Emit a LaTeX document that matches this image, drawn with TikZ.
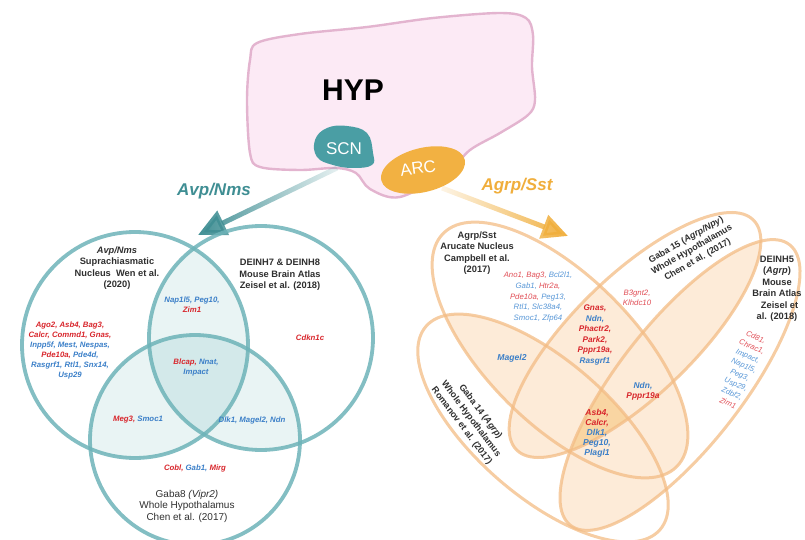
\documentclass[tikz,border=0pt]{standalone}
\usepackage{fontspec}
\setmainfont{Liberation Sans}
\usepackage{tikz}
\usetikzlibrary{arrows.meta,fadings}

% colours
\definecolor{hypfill}{HTML}{FCEAF5}
\definecolor{hypline}{HTML}{E3B4CF}
\definecolor{scnteal}{HTML}{4A9EA4}
\definecolor{arcorange}{HTML}{F2B142}
\definecolor{avpteal}{HTML}{3F8E93}
\definecolor{agrporange}{HTML}{F0AE3C}
\definecolor{tealring}{HTML}{6DB3B8}
\definecolor{tealpale}{HTML}{E9F4F4}
\definecolor{tealmid}{HTML}{D3E9EA}
\definecolor{orring}{HTML}{F3BC84}
\definecolor{orpale}{HTML}{FDEBD8}
\definecolor{ormid}{HTML}{F9D5A2}
\definecolor{genered}{HTML}{D8262C}
\definecolor{geneblue}{HTML}{3B7FC8}
\definecolor{lightred}{HTML}{E04D55}
\definecolor{lightblue}{HTML}{5796D6}
\definecolor{titlegray}{HTML}{2F2F2F}

\newcommand{\gred}[1]{\textcolor{genered}{#1}}
\newcommand{\gblue}[1]{\textcolor{geneblue}{#1}}
\newcommand{\lred}[1]{\textcolor{lightred}{#1}}
\newcommand{\lblue}[1]{\textcolor{lightblue}{#1}}

\tikzfading[name=fadeleft, left color=transparent!0, right color=transparent!88]
\tikzfading[name=faderight, left color=transparent!88, right color=transparent!0]

\tikzset{
  venn teal/.style={draw=tealring, line width=3.8pt, draw opacity=0.85},
  venn orange/.style={draw=orring, line width=3pt, draw opacity=0.75},
  genes/.style={align=center, inner sep=1pt, font=\fontsize{7.8}{10}\selectfont\bfseries\itshape},
  thin genes/.style={align=center, inner sep=1pt, font=\fontsize{7.8}{10.6}\selectfont\itshape},
  study/.style={align=center, inner sep=1pt, text=titlegray, font=\fontsize{9.3}{11.5}\selectfont\bfseries},
  region/.style={text=white, font=\fontsize{17}{17}\selectfont},
  pathway/.style={font=\fontsize{17}{17}\selectfont\bfseries\itshape},
}

% venn paths
\def\wen{(wen) circle [radius=113]}
\def\zeisel{(zeisel) circle [radius=112]}
\def\chen{(chen) circle [radius=105]}
\def\campbell{(campbell) ellipse [x radius=165, y radius=74, rotate=-45]}
\def\romanov{(romanov) ellipse [x radius=155, y radius=68, rotate=-41]}
\def\gabaf{(gabaf) ellipse [x radius=165, y radius=60, rotate=44]}
\def\deinh{(deinh) ellipse [x radius=178, y radius=62, rotate=52]}

\begin{document}
\begin{tikzpicture}[x=1pt, y=-1pt]
\useasboundingbox (0,0) rectangle (805,540);

% hypothalamus
\draw[hypline, fill=hypfill, line width=2.4pt]
  plot[smooth cycle, tension=0.55] coordinates {(257,43) (300,34) (367,27) (433,18) (500,13) (526,18) (533,35) (532,67) (535,100) (528,115) (500,133) (470,150) (448,172) (400,197) (370,189) (356,173) (336,168) (300,170) (260,167) (250,153) (247,100) (250,60)};
\node[font=\fontsize{30}{30}\selectfont\bfseries] (hyp) at (353,90) {HYP};

% arrows out of SCN and ARC
\coordinate (scnfoot) at (337,168);
\coordinate (avptip) at (198,235);
\coordinate (arcfoot) at (442,188);
\coordinate (agrptip) at (568,236);
\draw[avpteal, line width=5pt, path fading=fadeleft, -{Triangle[length=28pt, width=26pt]}] (scnfoot) -- (avptip);
\draw[agrporange, line width=5pt, path fading=faderight, -{Triangle[length=26pt, width=24pt]}] (arcfoot) -- (agrptip);
\node[pathway, text=avpteal] (avplabel) at (214,191) {Avp/Nms};
\node[pathway, text=agrporange] (agrplabel) at (517,186) {Agrp/Sst};

% SCN and ARC
\fill[scnteal] plot[smooth cycle, tension=0.7] coordinates {(315,140) (327,128) (347,126) (367,133) (373,153) (372,165) (353,168) (333,165) (317,157)};
\node[region] (scn) at (344,149) {SCN};
\fill[arcorange] (423,170) ellipse [x radius=43, y radius=22, rotate=14];
\node[region, rotate=8] (arc) at (418,168) {ARC};

% left venn
\coordinate (wen) at (135,345);
\coordinate (zeisel) at (261,338);
\coordinate (chen) at (195,440);
\begin{scope}
  \clip \wen;
  \fill[tealpale] \zeisel;
  \fill[tealpale] \chen;
\end{scope}
\begin{scope}
  \clip \zeisel;
  \fill[tealpale] \chen;
\end{scope}
\begin{scope}
  \clip \wen;
  \clip \zeisel;
  \fill[tealmid] \chen;
\end{scope}
\draw[venn teal] \wen;
\draw[venn teal] \zeisel;
\draw[venn teal] \chen;

\node[study] (wentitle) at (117,268) {\textit{Avp/Nms}\\Suprachiasmatic\\Nucleus\ \ Wen et al.\\(2020)};
\node[genes] (wengenes) at (70,350) {\gred{Ago2, Asb4, Bag3,}\\\gred{Calcr, Commd1, Gnas,}\\\gblue{Inpp5f, Mest, Nespas,}\\\gred{Pde10a,} \gblue{Pde4d,}\\\gblue{Rasgrf1, Rtl1, Snx14,}\\\gblue{Usp29}};
\node[study] (zeiseltitle) at (280,275) {DEINH7 \& DEINH8\\Mouse Brain Atlas\\Zeisel et al. (2018)};
\node[genes] (zeiselgenes) at (310,338) {\gred{Cdkn1c}};
\node[genes] (wenzeisel) at (192,305) {\gblue{Nap1l5, Peg10,}\\\gred{Zim1}};
\node[genes] (allthree) at (196,367) {\gred{Blcap,} \gblue{Nnat,}\\\gblue{Impact}};
\node[genes] (wenchen) at (138,420) {\gred{Meg3,} \gblue{Smoc1}};
\node[genes] (zeiselchen) at (252,420) {\gblue{Dlk1, Magel2, Ndn}};
\node[genes] (chengenes) at (195,468) {\gred{Cobl,} \gblue{Gab1,} \gred{Mirg}};
\node[study, font=\fontsize{10}{11.5}\selectfont] (chentitle) at (187,506) {Gaba8 \textit{(Vipr2)}\\Whole Hypothalamus\\Chen et al. (2017)};

% right venn
\coordinate (campbell) at (560,350);
\coordinate (romanov) at (543,428);
\coordinate (gabaf) at (635,335);
\coordinate (deinh) at (680,385);
\begin{scope}
  \clip \campbell;
  \fill[orpale] \romanov;
  \fill[orpale] \gabaf;
  \fill[orpale] \deinh;
\end{scope}
\begin{scope}
  \clip \romanov;
  \fill[orpale] \gabaf;
  \fill[orpale] \deinh;
\end{scope}
\begin{scope}
  \clip \gabaf;
  \fill[orpale] \deinh;
\end{scope}
\begin{scope}
  \clip \campbell;
  \clip \romanov;
  \clip \gabaf;
  \fill[ormid] \deinh;
\end{scope}
\draw[venn orange] \campbell;
\draw[venn orange] \romanov;
\draw[venn orange] \gabaf;
\draw[venn orange] \deinh;

\node[study] (campbelltitle) at (477,253) {Agrp/Sst\\Arucate Nucleus\\Campbell et al.\\(2017)};
\node[thin genes] (campbellgenes) at (538,297) {\lred{Ano1,} \lred{Bag3,} \lblue{Bcl2l1,}\\\lblue{Gab1,} \lred{Htr2a,}\\\lred{Pde10a,} \lblue{Peg13,}\\\lblue{Rtl1, Slc38a4,}\\\lblue{Smoc1, Zfp64}};
\node[genes, font=\fontsize{8.2}{10.6}\selectfont\bfseries\itshape] (gnasgroup) at (595,335) {\gred{Gnas,}\\\gblue{Ndn,}\\\gred{Phactr2,}\\\gred{Park2,}\\\gred{Pppr19a,}\\\gblue{Rasgrf1}};
\node[genes, font=\fontsize{8.6}{10}\selectfont\bfseries\itshape] (magel) at (512,358) {\gblue{Magel2}};
\node[thin genes] (gabafgenes) at (637,298) {\lred{B3gnt2,}\\\lred{Klhdc10}};
\node[genes, font=\fontsize{8.4}{10}\selectfont\bfseries\itshape] (ndngroup) at (643,391) {\gblue{Ndn,}\\\gred{Pppr19a}};
\node[genes, font=\fontsize{8.6}{10}\selectfont\bfseries\itshape] (core) at (597,433) {\gred{Asb4,}\\\gred{Calcr,}\\\gblue{Dlk1,}\\\gblue{Peg10,}\\\gblue{Plagl1}};
\node[study, font=\fontsize{9}{11.5}\selectfont\bfseries, rotate=30] (gabaftitle) at (692,250) {Gaba 15 (\textit{Agrp/Npy})\\Whole Hypothalamus\\Chen et al. (2017)};
\node[study] (deinhtitle) at (777,289) {DEINH5\\(\textit{Agrp})\\Mouse\\Brain Atlas\\\ \ Zeisel et\\al. (2018)};
\node[thin genes, font=\fontsize{7.6}{10.2}\selectfont\itshape, rotate=-23] (deinhgenes) at (742,370) {\lred{Cd81,}\\\lred{Chrac1,}\\\lblue{Impact,}\\\lblue{Nap1l5,}\\\lblue{Peg3,}\\\lblue{Usp29,}\\\lblue{Zdbf2,}\\\lred{Zim1}};
\node[study, rotate=-53, font=\fontsize{9.1}{11.8}\selectfont\bfseries] (romanovtitle) at (471,419) {Gaba 14 (\textit{Agrp})\\Whole Hypothalamus\\Romanov et al. (2017)};
\end{tikzpicture}
\end{document}
